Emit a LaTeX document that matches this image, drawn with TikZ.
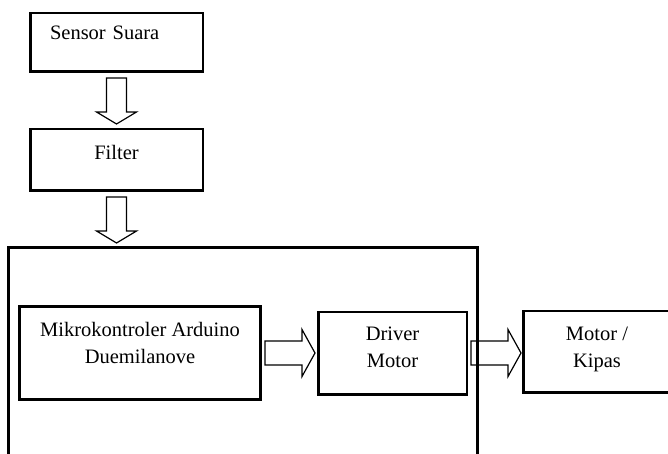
\documentclass[tikz,border=0pt]{standalone}
\usepackage{fontspec}
\setmainfont{Liberation Serif}
\usepackage{tikz}
\usetikzlibrary{positioning, calc}

\newcommand{\panahturun}[1]{%
  \draw[panah] ($(#1.south)+(-10,5)$) -- ++(20,0) -- ++(0,34) -- ++(10,0)
    -- ++(-20,12) -- ++(-20,-12) -- ++(10,0) -- cycle;}
\newcommand{\panahkanan}[1]{%
  \draw[panah] ($(#1.east)+(3,-12)$) -- ++(37,0) -- ++(0,-11.5) -- ++(13,23.5)
    -- ++(-13,23.5) -- ++(0,-11.5) -- ++(-37,0) -- cycle;}

\begin{document}
\begin{tikzpicture}[x=1pt, y=-1pt,
  kotak/.style={draw, line width=2.5pt, inner sep=0pt, align=center,
    font=\fontsize{20.5}{27}\selectfont},
  panah/.style={draw, line width=1.2pt, line join=miter}]
  \useasboundingbox (0,0) rectangle (668,454);
  \clip (0,0) rectangle (668,454);

  \node[draw, line width=3pt, minimum width=469pt, minimum height=250pt] (utama) at (243,372.5) {};

  \node[kotak, minimum width=172.5pt, minimum height=58.5pt, text width=133pt, align=left, text depth=19pt] (sensor) at (116.5,42.5) {Sensor Suara};
  \node[kotak, minimum width=172.5pt, minimum height=61.5pt, text depth=15.5pt, below=55pt of sensor] (filter) {Filter};

  \node[kotak, line width=3pt, minimum width=241pt, minimum height=93pt, text depth=21pt] (mikro) at (140,353) {Mikrokontroler Arduino\\Duemilanove};
  \node[kotak, minimum width=148.5pt, minimum height=82.5pt, text depth=12pt, right=55pt of mikro] (driver) {Driver\\Motor};
  \node[kotak, minimum width=147.5pt, minimum height=81.5pt, text depth=9pt, right=54pt of driver, yshift=1.5pt] (motor) {Motor /\\Kipas};

  \panahturun{sensor}
  \panahturun{filter}
  \panahkanan{mikro}
  \panahkanan{driver}
\end{tikzpicture}
\end{document}
